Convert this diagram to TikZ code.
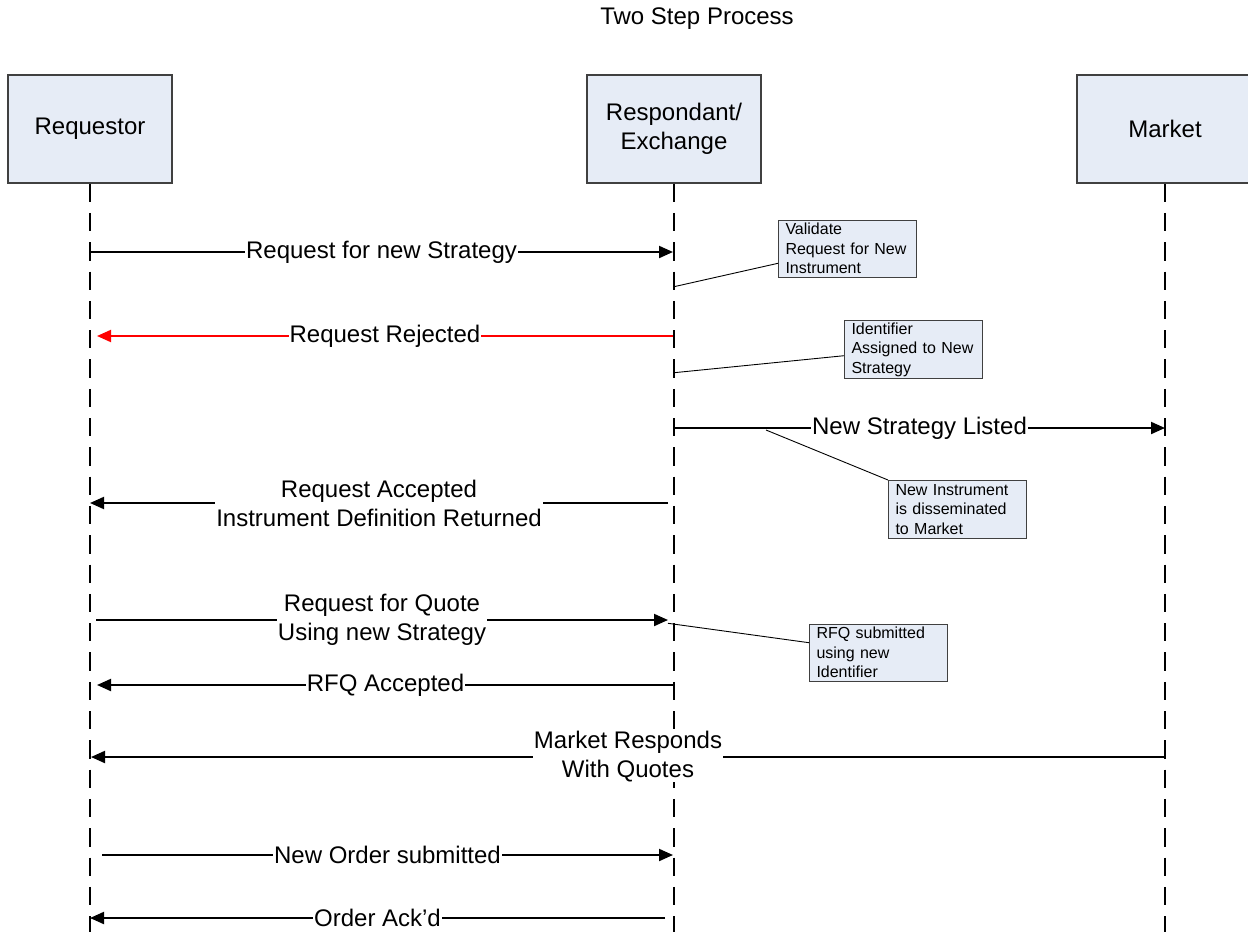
\documentclass[tikz,border=0pt]{standalone}
\usepackage{fontspec}
\setmainfont{Liberation Sans}
\usetikzlibrary{arrows.meta}
\definecolor{boxfill}{RGB}{230,236,246}
\definecolor{boxline}{RGB}{64,64,64}

\begin{document}
\begin{tikzpicture}[x=1pt,y=-1pt,
  actor/.style={draw=boxline, line width=1.3pt, fill=boxfill, minimum height=108pt,
    align=center, font=\fontsize{24}{29}\selectfont, inner sep=0pt},
  lifeline/.style={line width=2.2pt, dash pattern=on 18.3pt off 11pt},
  msg/.style={line width=2pt, -{Triangle[length=14pt,width=12pt]}},
  msglabel/.style={fill=white, inner xsep=1pt, inner ysep=0pt, align=center,
    font=\fontsize{24}{29}\selectfont},
  note/.style={draw=boxline, line width=1pt, fill=boxfill, text width=124pt,
    inner xsep=7pt, inner ysep=2pt, minimum height=57.5pt, align=left,
    font=\fontsize{16}{19.5}\selectfont, anchor=north west},
  notelink/.style={line width=0.9pt}
]
\useasboundingbox (0,0) rectangle (1248,932);

% title
\node[font=\fontsize{24}{29}\selectfont] (title) at (697,19) {Two Step Process};

% participants
\node[actor, minimum width=164pt] (req)  at (90,129)   {Requestor};
\node[actor, minimum width=174pt] (resp) at (674,129)  {Respondant/\\Exchange};
\node[actor, minimum width=176pt] (mkt)  at (1165,129) {Market};

% lifelines
\coordinate (reqEnd)  at (90,932);
\coordinate (respEnd) at (674,932);
\coordinate (mktEnd)  at (1165,932);
\draw[lifeline] (req.south)  -- (reqEnd);
\draw[lifeline] (resp.south) -- (respEnd);
\draw[lifeline] (mkt.south)  -- (mktEnd);

% messages
\coordinate (m1a) at (90,252);   \coordinate (m1b) at (673,252);
\draw[msg] (m1a) -- (m1b) node[msglabel, midway] (l1) {Request for new Strategy};

\coordinate (m2a) at (673,336);  \coordinate (m2b) at (97,336);
\draw[msg, red] (m2a) -- (m2b) node[msglabel, text=black, midway] (l2) {Request Rejected};

\coordinate (m3a) at (674,428);  \coordinate (m3b) at (1165,428);
\draw[msg] (m3a) -- (m3b) node[msglabel, midway] (l3) {New Strategy Listed};

\coordinate (m4a) at (668,503);  \coordinate (m4b) at (90,503);
\draw[msg] (m4a) -- (m4b) node[msglabel, midway] (l4) {Request Accepted\\Instrument Definition Returned};

\coordinate (m5a) at (96,620);   \coordinate (m5b) at (668,620);
\draw[msg] (m5a) -- (m5b) node[msglabel, midway] (l5) {Request for Quote\\Using new Strategy};

\coordinate (m6a) at (674,685);  \coordinate (m6b) at (97,685);
\draw[msg] (m6a) -- (m6b) node[msglabel, midway] (l6) {RFQ Accepted};

\coordinate (m7a) at (1165,757); \coordinate (m7b) at (91,757);
\draw[msg] (m7a) -- (m7b) node[msglabel, midway] (l7) {Market Responds\\With Quotes};

\coordinate (m8a) at (102,855);  \coordinate (m8b) at (673,855);
\draw[msg] (m8a) -- (m8b) node[msglabel, midway] (l8) {New Order submitted};

\coordinate (m9a) at (665,918);  \coordinate (m9b) at (90,918);
\draw[msg] (m9a) -- (m9b) node[msglabel, midway] (l9) {Order Ack'd};

% annotations
\node[note] (n1) at (778,219.5) {Validate\\Request for New\\Instrument};
\node[note] (n2) at (844,320)   {Identifier\\Assigned to New\\Strategy};
\node[note] (n3) at (888,480)   {New Instrument\\is disseminated\\to Market};
\node[note] (n4) at (809,623.5) {RFQ submitted\\using new\\Identifier};

\coordinate (n1a) at (778,263.3); \coordinate (n1b) at (674,286.7);
\coordinate (n2a) at (844,355.7); \coordinate (n2b) at (674,372.7);
\coordinate (n3b) at (766,430);
\coordinate (n4a) at (809,642.7); \coordinate (n4b) at (668,623.3);
\draw[notelink] (n1a) -- (n1b);
\draw[notelink] (n2a) -- (n2b);
\draw[notelink] (n3.north west) -- (n3b);
\draw[notelink] (n4a) -- (n4b);
\end{tikzpicture}
\end{document}
